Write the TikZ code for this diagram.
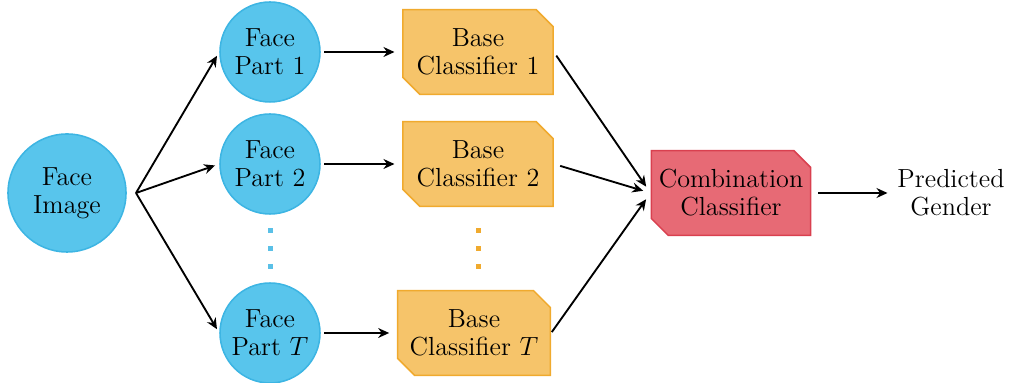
\documentclass[tikz,border=0pt]{standalone}
\usetikzlibrary{arrows.meta,shapes.misc}
\definecolor{cblue}{HTML}{58C5EC}
\definecolor{cbluel}{HTML}{3DB5E3}
\definecolor{corange}{HTML}{F6C46A}
\definecolor{corangel}{HTML}{F0AA2E}
\definecolor{cred}{HTML}{E76A75}
\definecolor{credl}{HTML}{D9404F}
\tikzset{
  part/.style={circle, fill=cblue, draw=cbluel, line width=0.7pt, minimum size=45.5pt, inner sep=0pt, align=center},
  clf/.style={chamfered rectangle, chamfered rectangle corners={north east,south west}, chamfered rectangle xsep=4.8pt, fill=corange, draw=corangel, line width=0.7pt, minimum width=68.3pt, minimum height=38.5pt, inner sep=0pt, align=center},
  comb/.style={clf, fill=cred, draw=credl, minimum width=72pt, inner xsep=-1.4pt},
  arr/.style={-{Stealth[length=5pt,width=4.5pt]}, line width=0.85pt},
  dotb/.style={fill=cbluel!85},
  doto/.style={fill=corangel},
}
\begin{document}
\begin{tikzpicture}[x=0.455pt,y=-0.455pt,font=\fontsize{11.9}{12.8}\selectfont]
\useasboundingbox (0,0) rectangle (1016,383);
\node[part, minimum size=53.7pt] (img) at (67,193) {Face\\Image};
\node[part] (p1) at (270,52) {Face\\Part 1};
\node[part] (p2) at (270,164) {Face\\Part 2};
\node[part] (pT) at (270,333) {Face\\Part $T$};
\node[clf] (b1) at (478,52) {Base\\Classifier 1};
\node[clf] (b2) at (478,164) {Base\\Classifier 2};
\node[clf, minimum width=69.5pt] (bT) at (474,333) {Base\\Classifier $T$};
\node[comb] (c) at (731,193) {Combination\\Classifier};
\node[align=center] (g) at (951,193) {Predicted\\Gender};
\coordinate (fork) at (136,193);
\foreach \y in {231,249,267}{
  \fill[dotb] (267.5,\y-2.5) rectangle (272.5,\y+2.5);
  \fill[doto] (475.5,\y-2.5) rectangle (480.5,\y+2.5);
}
\draw[arr, shorten >=2pt] (fork) -- (p1.west);
\draw[arr, shorten >=2pt] (fork) -- (p2.west);
\draw[arr, shorten >=2pt] (fork) -- (pT.west);
\draw[arr, shorten <=1.5pt, shorten >=3.5pt] (p1.east) -- (b1.west);
\draw[arr, shorten <=1.5pt, shorten >=3.5pt] (p2.east) -- (b2.west);
\draw[arr, shorten <=1.5pt, shorten >=3.5pt] (pT.east) -- (bT.west);
\draw[arr, shorten <=2pt, shorten >=3.5pt] (b1.east) -- (c.west);
\draw[arr, shorten <=3pt, shorten >=3.5pt] (b2.east) -- (c.west);
\draw[arr, shorten <=0.5pt, shorten >=3.5pt] (bT.east) -- (c.west);
\draw[arr, shorten <=3pt, shorten >=1pt] (c.east) -- (g.west);
\end{tikzpicture}
\end{document}
